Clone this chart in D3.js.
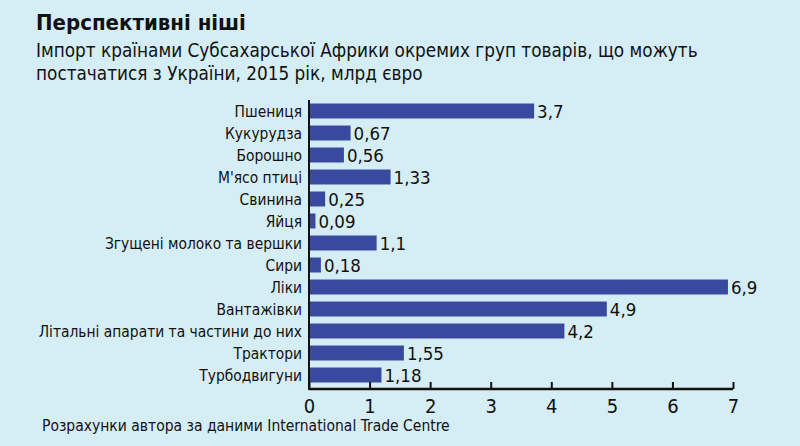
<!DOCTYPE html>
<html>
<head>
<meta charset="utf-8">
<script src="https://cdn.jsdelivr.net/npm/d3@7"></script>
<style>
  html, body { margin: 0; padding: 0; background: #d5edf4; }
  svg { display: block; }
</style>
</head>
<body>
<div id="chart"></div>
<script>
const categories = ['Пшениця', 'Кукурудза', 'Борошно', "М'ясо птиці", 'Свинина', 'Яйця',
  'Згущені молоко та вершки', 'Сири', 'Ліки', 'Вантажівки',
  'Літальні апарати та частини до них', 'Трактори', 'Турбодвигуни'];
const values = [3.7, 0.67, 0.56, 1.33, 0.25, 0.09, 1.1, 0.18, 6.9, 4.9, 4.2, 1.55, 1.18];
const ticks = [0, 1, 2, 3, 4, 5, 6, 7];

const width = 800, height = 446;
const font = '"DejaVu Sans Condensed", sans-serif';

const svg = d3.select('#chart')
  .append('svg')
  .attr('width', width)
  .attr('height', height)
  .style('background', '#d5edf4');

const x = d3.scaleLinear().domain([0, 7]).range([309, 733]);
const y = d3.scaleBand().domain(categories).range([100, 386]).paddingInner(0.32).paddingOuter(0.16);

// title
svg.append('text')
  .attr('x', 36).attr('y', 30)
  .style('font-family', font).style('font-weight', 'bold').style('font-size', '22px')
  .attr('fill', '#111')
  .text('Перспективні ніші');

const sub = ['Імпорт країнами Субсахарської Африки окремих груп товарів, що можуть',
  'постачатися з України, 2015 рік, млрд євро'];
svg.selectAll('.sub').data(sub).enter().append('text')
  .attr('x', 36).attr('y', (d, i) => 57 + i * 23)
  .style('font-family', font).style('font-size', '18.8px')
  .attr('fill', '#111')
  .text(d => d);

// bars
svg.selectAll('.bar').data(values).enter().append('rect')
  .attr('x', x(0) + 1)
  .attr('y', (d, i) => y(categories[i]))
  .attr('width', d => x(d) - x(0))
  .attr('height', y.bandwidth())
  .attr('fill', '#3949a0');

// value labels
svg.selectAll('.val').data(values).enter().append('text')
  .attr('x', d => x(d) + 4)
  .attr('y', (d, i) => y(categories[i]) + y.bandwidth() / 2)
  .attr('dy', '0.36em')
  .style('font-family', font).style('font-size', '18.5px')
  .attr('fill', '#111')
  .text(d => String(d).replace('.', ','));

// category labels
svg.selectAll('.cat').data(categories).enter().append('text')
  .attr('x', 302)
  .attr('y', d => y(d) + y.bandwidth() / 2)
  .attr('dy', '0.36em')
  .attr('text-anchor', 'end')
  .style('font-family', font).style('font-size', '15.4px')
  .attr('fill', '#111')
  .text(d => d);

// axes
const axisY = 389;
const xAxis = svg.append('g')
  .attr('transform', `translate(0,${axisY})`)
  .call(d3.axisBottom(x).tickValues(ticks).tickSize(-7).tickPadding(10).tickFormat(d3.format('d')));
xAxis.select('.domain').remove();
xAxis.selectAll('.tick line').attr('stroke', '#111').attr('stroke-width', 2);
xAxis.selectAll('.tick text')
  .style('font-family', font).style('font-size', '20px').attr('fill', '#111');

svg.append('line')
  .attr('x1', x(0)).attr('x2', x(7))
  .attr('y1', axisY).attr('y2', axisY)
  .attr('stroke', '#111').attr('stroke-width', 2.5);
svg.append('line')
  .attr('x1', x(0)).attr('x2', x(0))
  .attr('y1', 100).attr('y2', axisY + 1)
  .attr('stroke', '#111').attr('stroke-width', 2);

// source
svg.append('text')
  .attr('x', 42).attr('y', 431)
  .style('font-family', font).style('font-size', '15.5px')
  .attr('fill', '#111')
  .text('Розрахунки автора за даними International Trade Centre');
</script>
</body>
</html>
